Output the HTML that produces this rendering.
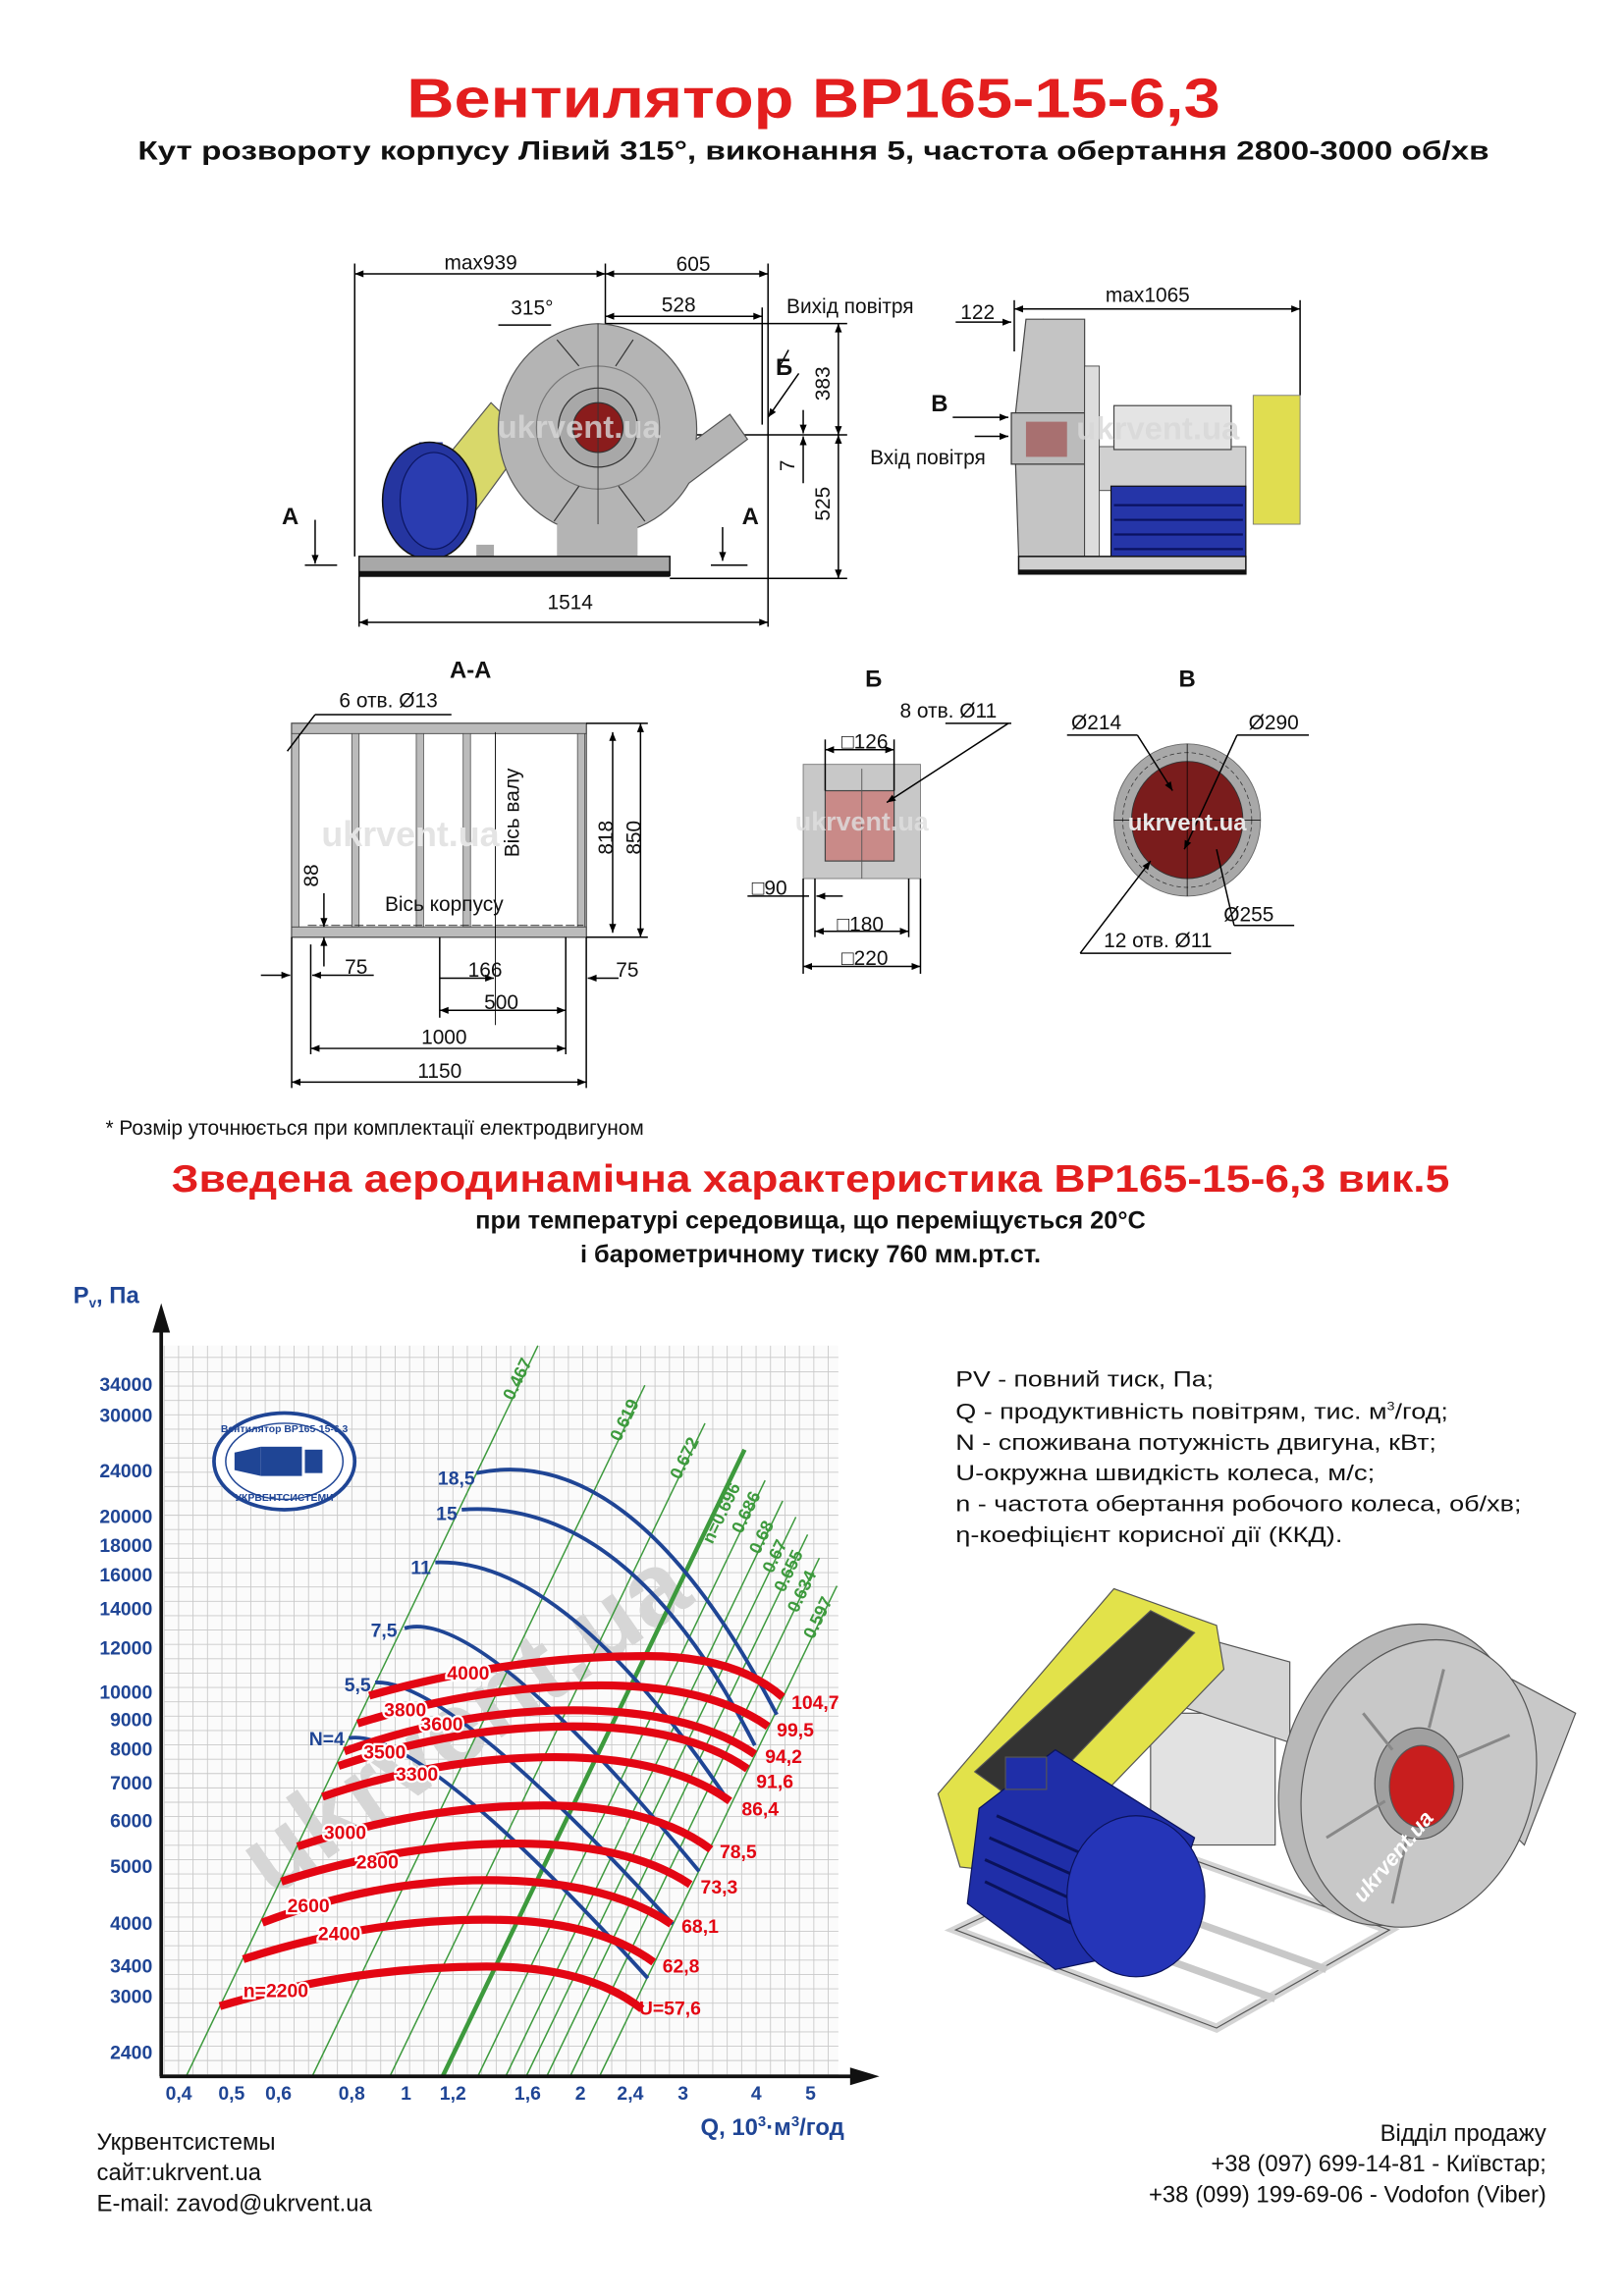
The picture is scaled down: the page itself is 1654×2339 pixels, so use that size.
<!DOCTYPE html>
<html><head><meta charset="utf-8">
<style>
html,body{margin:0;padding:0;background:#fff;}
svg{display:block;}
text{font-family:"Liberation Sans",sans-serif;}
</style></head>
<body>
<svg id="s" xmlns="http://www.w3.org/2000/svg" width="1654" height="2339" viewBox="0 0 1108 1568" preserveAspectRatio="none">
<defs>
<marker id="ar" viewBox="0 0 10 10" refX="10" refY="5" markerWidth="9" markerHeight="6" orient="auto-start-reverse" markerUnits="userSpaceOnUse"><path d="M0,1 L10,5 L0,9 z" fill="#000"/></marker>
</defs>
<rect width="1108" height="1568" fill="#fff"/>

<text x="555" y="80" text-anchor="middle" font-size="38" font-weight="bold" fill="#e31e1e" textLength="555" lengthAdjust="spacingAndGlyphs">Вентилятор ВР165-15-6,3</text>
<text x="555" y="109" text-anchor="middle" font-size="18" font-weight="bold" fill="#111" textLength="922" lengthAdjust="spacingAndGlyphs">Кут розвороту корпусу Лівий 315°, виконання 5, частота обертання 2800-3000 об/хв</text>

<g stroke="#000" stroke-width="1" fill="none">
 <line x1="242" y1="180" x2="242" y2="380"/>
 <line x1="413" y1="180" x2="413" y2="290"/>
 <line x1="524" y1="180" x2="524" y2="428"/>
 <line x1="520" y1="210" x2="520" y2="290"/>
 <line x1="245" y1="390" x2="245" y2="428"/>
 <line x1="242" y1="187" x2="413" y2="187" marker-start="url(#ar)" marker-end="url(#ar)"/>
 <line x1="413" y1="187" x2="524" y2="187" marker-start="url(#ar)" marker-end="url(#ar)"/>
 <line x1="413" y1="216" x2="520" y2="216" marker-start="url(#ar)" marker-end="url(#ar)"/>
 <line x1="245" y1="425" x2="524" y2="425" marker-start="url(#ar)" marker-end="url(#ar)"/>
 <line x1="413" y1="221" x2="578" y2="221"/>
 <line x1="440" y1="297" x2="578" y2="297"/>
 <line x1="457" y1="395" x2="578" y2="395"/>
 <line x1="572" y1="221" x2="572" y2="297" marker-start="url(#ar)" marker-end="url(#ar)"/>
 <line x1="572" y1="297" x2="572" y2="395" marker-start="url(#ar)" marker-end="url(#ar)"/>
 <line x1="548" y1="280" x2="548" y2="296" marker-end="url(#ar)"/>
 <line x1="548" y1="330" x2="548" y2="298" marker-end="url(#ar)"/>
 <line x1="340" y1="222" x2="376" y2="222"/>
 <line x1="215" y1="355" x2="215" y2="385" marker-end="url(#ar)"/>
 <line x1="208" y1="386" x2="230" y2="386"/>
 <line x1="493" y1="360" x2="493" y2="383" marker-end="url(#ar)"/>
 <line x1="485" y1="386" x2="510" y2="386"/>
 <line x1="545" y1="255" x2="524" y2="285" marker-end="url(#ar)"/>
 <line x1="532" y1="250" x2="538" y2="239"/>
</g>
<polygon points="300,318 335,275 360,300 325,348" fill="#d8d86a" stroke="#555" stroke-width="0.8"/>
<rect x="286" y="302" width="16" height="14" fill="#2a3ca8"/>
<ellipse cx="293" cy="342" rx="32" ry="40" fill="#2535a0" stroke="#111" stroke-width="1"/>
<ellipse cx="296" cy="342" rx="23" ry="33" fill="#2a3cb0" stroke="#0b1560" stroke-width="0.8"/>
<path d="M408,221 A70,72 0 1 0 470,330 L510,300 L498,283 L475,300 A70,72 0 0 0 408,221 z" fill="#b4b4b4" stroke="#555" stroke-width="0.8"/>
<circle cx="408" cy="292" r="42" fill="none" stroke="#777" stroke-width="0.8"/>
<circle cx="408" cy="292" r="27" fill="#a8a8a8" stroke="#333" stroke-width="0.8"/>
<circle cx="408" cy="292" r="17" fill="#8a1c1c" stroke="#333" stroke-width="0.8"/>
<g stroke="#333" stroke-width="0.8"><line x1="395" y1="250" x2="380" y2="232"/><line x1="420" y1="250" x2="432" y2="232"/><line x1="395" y1="332" x2="378" y2="356"/><line x1="422" y1="332" x2="440" y2="356"/></g>
<line x1="408" y1="221" x2="408" y2="376" stroke="#333" stroke-width="0.6"/>
<rect x="325" y="372" width="12" height="12" fill="#aaa"/>
<rect x="380" y="358" width="55" height="25" fill="#b4b4b4"/>
<rect x="245" y="380" width="212" height="13" fill="#a8a8a8" stroke="#111"/>
<rect x="245" y="390" width="212" height="4" fill="#111"/>
<text x="395" y="299" font-size="22" font-weight="bold" fill="#d8d8d8" text-anchor="middle" opacity="0.8">ukrvent.ua</text>
<g font-size="14" fill="#111">
 <text x="328" y="184" text-anchor="middle">max939</text>
 <text x="473" y="185" text-anchor="middle">605</text>
 <text x="363" y="215" text-anchor="middle">315°</text>
 <text x="463" y="213" text-anchor="middle">528</text>
 <text x="580" y="214" text-anchor="middle">Вихід повітря</text>
 <text x="535" y="256" text-anchor="middle" font-weight="bold" font-size="16">Б</text>
 <text x="198" y="358" text-anchor="middle" font-weight="bold" font-size="16">А</text>
 <text x="512" y="358" text-anchor="middle" font-weight="bold" font-size="16">А</text>
 <text x="389" y="416" text-anchor="middle">1514</text>
 <text transform="translate(566,262) rotate(-90)" text-anchor="middle">383</text>
 <text transform="translate(566,344) rotate(-90)" text-anchor="middle">525</text>
 <text transform="translate(542,318) rotate(-90)" text-anchor="middle">7</text>
</g>

<g stroke="#000" stroke-width="1" fill="none">
 <line x1="692" y1="205" x2="692" y2="240"/>
 <line x1="887" y1="205" x2="887" y2="270"/>
 <line x1="692" y1="211" x2="887" y2="211" marker-start="url(#ar)" marker-end="url(#ar)"/>
 <line x1="652" y1="220" x2="690" y2="220" marker-end="url(#ar)"/>
 <line x1="720" y1="220" x2="706" y2="220" marker-end="url(#ar)"/>
 <line x1="650" y1="285" x2="688" y2="285" marker-end="url(#ar)"/>
 <line x1="665" y1="298" x2="688" y2="298" marker-end="url(#ar)"/>
</g>
<polygon points="700,218 740,218 740,380 695,380 692,290" fill="#c4c4c4" stroke="#444" stroke-width="0.8"/>
<rect x="690" y="282" width="50" height="35" fill="#bbb" stroke="#333" stroke-width="0.8"/>
<rect x="700" y="288" width="28" height="24" fill="#a87070"/>
<rect x="740" y="250" width="10" height="130" fill="#ddd" stroke="#444" stroke-width="0.6"/>
<rect x="750" y="305" width="100" height="30" fill="#d0d0d0" stroke="#444" stroke-width="0.6"/>
<rect x="760" y="277" width="80" height="30" fill="#e4e4e4" stroke="#444" stroke-width="0.8"/>
<rect x="758" y="332" width="92" height="52" fill="#2535a8" stroke="#111" stroke-width="0.8"/>
<g stroke="#0a1260" stroke-width="1.5"><line x1="760" y1="345" x2="848" y2="345"/><line x1="760" y1="355" x2="848" y2="355"/><line x1="760" y1="365" x2="848" y2="365"/><line x1="760" y1="375" x2="848" y2="375"/></g>
<rect x="855" y="270" width="32" height="88" fill="#e0dd50" stroke="#777" stroke-width="0.6"/>
<rect x="695" y="380" width="155" height="12" fill="#d0d0d0" stroke="#111"/>
<rect x="695" y="389" width="155" height="3" fill="#111"/>
<text x="790" y="300" font-size="22" font-weight="bold" fill="#d8d8d8" text-anchor="middle" opacity="0.8">ukrvent.ua</text>
<g font-size="14" fill="#111">
 <text x="667" y="218" text-anchor="middle">122</text>
 <text x="783" y="206" text-anchor="middle">max1065</text>
 <text x="641" y="281" text-anchor="middle" font-weight="bold" font-size="16">В</text>
 <text x="633" y="317" text-anchor="middle">Вхід повітря</text>
</g>

<g font-size="14" fill="#111">
 <text x="321" y="463" text-anchor="middle" font-weight="bold" font-size="16">А-А</text>
 <text x="265" y="483" text-anchor="middle">6 отв. Ø13</text>
</g>
<rect x="199" y="494" width="201" height="146" fill="#fff" stroke="#555"/>
<rect x="199" y="494" width="201" height="7" fill="#bbb" stroke="#444" stroke-width="0.6"/>
<rect x="199" y="633" width="201" height="7" fill="#bbb" stroke="#444" stroke-width="0.6"/>
<g fill="#bbb" stroke="#444" stroke-width="0.5">
<rect x="199" y="501" width="5" height="132"/><rect x="240" y="501" width="5" height="132"/><rect x="284" y="501" width="5" height="132"/><rect x="316" y="501" width="5" height="132"/><rect x="394" y="501" width="5" height="132"/>
</g>
<g stroke="#000" stroke-width="1" fill="none">
 <line x1="196" y1="513" x2="215" y2="488"/><line x1="215" y1="488" x2="308" y2="488"/>
 <line x1="400" y1="494" x2="442" y2="494"/><line x1="400" y1="640" x2="442" y2="640"/>
 <line x1="418" y1="500" x2="418" y2="637" marker-start="url(#ar)" marker-end="url(#ar)"/>
 <line x1="437" y1="494" x2="437" y2="640" marker-start="url(#ar)" marker-end="url(#ar)"/>
 <line x1="221" y1="610" x2="221" y2="633" marker-end="url(#ar)"/>
 <line x1="221" y1="660" x2="221" y2="640" marker-end="url(#ar)"/>
 <line x1="210" y1="632" x2="398" y2="632" stroke-dasharray="6,2" stroke-width="0.5"/>
 <line x1="338" y1="500" x2="338" y2="700" stroke-width="0.6"/>
 <line x1="199" y1="640" x2="199" y2="743"/><line x1="212" y1="645" x2="212" y2="720"/>
 <line x1="300" y1="640" x2="300" y2="695"/><line x1="386" y1="640" x2="386" y2="720"/><line x1="400" y1="640" x2="400" y2="743"/>
 <line x1="178" y1="666" x2="198" y2="666" marker-end="url(#ar)"/><line x1="255" y1="666" x2="213" y2="666" marker-end="url(#ar)"/>
 <line x1="300" y1="668" x2="337" y2="668" marker-end="url(#ar)"/>
 <line x1="422" y1="668" x2="401" y2="668" marker-end="url(#ar)"/>
 <line x1="300" y1="690" x2="386" y2="690" marker-start="url(#ar)" marker-end="url(#ar)"/>
 <line x1="212" y1="716" x2="386" y2="716" marker-start="url(#ar)" marker-end="url(#ar)"/>
 <line x1="199" y1="739" x2="400" y2="739" marker-start="url(#ar)" marker-end="url(#ar)"/>
</g>
<text x="280" y="578" font-size="24" font-weight="bold" fill="#e4e4e4" text-anchor="middle">ukrvent.ua</text>
<g font-size="14" fill="#111">
 <text transform="translate(217,598) rotate(-90)" text-anchor="middle">88</text>
 <text x="303" y="622" text-anchor="middle">Вісь корпусу</text>
 <text transform="translate(354,555) rotate(-90)" text-anchor="middle">Вісь валу</text>
 <text transform="translate(418,572) rotate(-90)" text-anchor="middle">818</text>
 <text transform="translate(437,572) rotate(-90)" text-anchor="middle">850</text>
 <text x="243" y="665" text-anchor="middle">75</text>
 <text x="331" y="667" text-anchor="middle">166</text>
 <text x="428" y="667" text-anchor="middle">75</text>
 <text x="342" y="689" text-anchor="middle">500</text>
 <text x="303" y="713" text-anchor="middle">1000</text>
 <text x="300" y="736" text-anchor="middle">1150</text>
</g>

<rect x="548" y="522" width="80" height="78" fill="#c8c8c8" stroke="#777" stroke-width="0.6"/>
<rect x="563" y="540" width="47" height="48" fill="#c98a88" stroke="#444" stroke-width="0.8"/>
<line x1="588" y1="525" x2="588" y2="600" stroke="#555" stroke-width="0.6"/>
<g stroke="#000" stroke-width="1" fill="none">
 <line x1="563" y1="512" x2="610" y2="512" marker-start="url(#ar)" marker-end="url(#ar)"/>
 <line x1="563" y1="505" x2="563" y2="540"/><line x1="610" y1="505" x2="610" y2="540"/>
 <line x1="688" y1="494" x2="605" y2="548" marker-end="url(#ar)"/><line x1="645" y1="494" x2="690" y2="494"/>
 <line x1="510" y1="612" x2="552" y2="612"/><line x1="575" y1="612" x2="557" y2="612" marker-end="url(#ar)"/>
 <line x1="556" y1="600" x2="556" y2="640"/><line x1="620" y1="600" x2="620" y2="640"/>
 <line x1="548" y1="600" x2="548" y2="665"/><line x1="628" y1="600" x2="628" y2="665"/>
 <line x1="556" y1="636" x2="620" y2="636" marker-start="url(#ar)" marker-end="url(#ar)"/>
 <line x1="548" y1="660" x2="628" y2="660" marker-start="url(#ar)" marker-end="url(#ar)"/>
</g>
<text x="588" y="567" font-size="18" font-weight="bold" fill="#e0e0e0" text-anchor="middle" opacity="0.8">ukrvent.ua</text>
<g font-size="14" fill="#111">
 <text x="596" y="469" text-anchor="middle" font-weight="bold" font-size="16">Б</text>
 <text x="647" y="490" text-anchor="middle">8 отв. Ø11</text>
 <text x="590" y="511" text-anchor="middle">□126</text>
 <text x="525" y="611" text-anchor="middle">□90</text>
 <text x="587" y="636" text-anchor="middle">□180</text>
 <text x="590" y="659" text-anchor="middle">□220</text>
</g>

<ellipse cx="810" cy="560" rx="50" ry="52" fill="#a8a8a8" stroke="#666" stroke-width="0.6"/>
<ellipse cx="810" cy="560" rx="38" ry="40" fill="#7a1c1c" stroke="#333" stroke-width="0.6"/>
<ellipse cx="810" cy="560" rx="44" ry="46" fill="none" stroke="#333" stroke-width="0.5" stroke-dasharray="3,2"/>
<g stroke="#000" stroke-width="1" fill="none">
 <line x1="728" y1="502" x2="776" y2="502"/><line x1="776" y1="502" x2="800" y2="540" marker-end="url(#ar)"/>
 <line x1="893" y1="502" x2="844" y2="502"/><line x1="844" y1="502" x2="808" y2="580" marker-end="url(#ar)"/>
 <line x1="883" y1="632" x2="842" y2="632"/><line x1="842" y1="632" x2="830" y2="580"/>
 <line x1="840" y1="651" x2="737" y2="651"/><line x1="737" y1="651" x2="785" y2="588" marker-end="url(#ar)"/>
 <line x1="760" y1="560" x2="860" y2="560" stroke-width="0.5"/><line x1="810" y1="508" x2="810" y2="612" stroke-width="0.5"/>
</g>
<text x="810" y="567" font-size="16" font-weight="bold" fill="#e8e8e8" text-anchor="middle">ukrvent.ua</text>
<g font-size="14" fill="#111">
 <text x="810" y="469" text-anchor="middle" font-weight="bold" font-size="16">В</text>
 <text x="748" y="498" text-anchor="middle">Ø214</text>
 <text x="869" y="498" text-anchor="middle">Ø290</text>
 <text x="852" y="629" text-anchor="middle">Ø255</text>
 <text x="790" y="647" text-anchor="middle">12 отв. Ø11</text>
</g>

<text x="72" y="775" font-size="14" fill="#111">* Розмір уточнюється при комплектації електродвигуном</text>

<text x="553" y="814" text-anchor="middle" font-size="26" font-weight="bold" fill="#e31e1e" textLength="872" lengthAdjust="spacingAndGlyphs">Зведена аеродинамічна характеристика ВР165-15-6,3 вик.5</text>
<text x="553" y="839" text-anchor="middle" font-size="17" font-weight="bold" fill="#111">при температурі середовища, що переміщується 20°С</text>
<text x="553" y="862" text-anchor="middle" font-size="17" font-weight="bold" fill="#111">і барометричному тиску 760 мм.рт.ст.</text>

<rect x="112" y="919" width="460" height="498" fill="#fbfbfb"/>
<g id="grid" stroke="#c9c9c9" stroke-width="0.6"></g>
<text transform="translate(330,1195) rotate(-35)" font-size="70" font-weight="bold" fill="#d6d6d6" text-anchor="middle">ukrvent.ua</text>
<g id="green" stroke="#3d9a3d" stroke-width="1"></g>
<g font-size="12" font-weight="bold" fill="#3d9a3d">
 <text transform="translate(350,957) rotate(-64)">0.467</text>
 <text transform="translate(423,985) rotate(-64)">0.619</text>
 <text transform="translate(464,1011) rotate(-64)">0.672</text>
 <text transform="translate(486,1055) rotate(-64)">n=0.696</text>
 <text transform="translate(506,1048) rotate(-64)">0.686</text>
 <text transform="translate(518,1062) rotate(-64)">0.68</text>
 <text transform="translate(527,1075) rotate(-64)">0.67</text>
 <text transform="translate(535,1088) rotate(-64)">0.655</text>
 <text transform="translate(544,1102) rotate(-64)">0.634</text>
 <text transform="translate(555,1120) rotate(-64)">0.597</text>
</g>
<g id="blue" stroke="#1f4595" stroke-width="2.6" fill="none"></g>
<g id="red" stroke="#e30613" stroke-width="5.5" fill="none"></g>
<line x1="110" y1="1418" x2="110" y2="905" stroke="#111" stroke-width="2.5"/>
<polygon points="104,910 116,910 110,890" fill="#111"/>
<line x1="109" y1="1418" x2="585" y2="1418" stroke="#111" stroke-width="2.5"/>
<polygon points="580,1412 580,1424 600,1418" fill="#111"/>
<g font-size="13" font-weight="bold" fill="#1f4595" text-anchor="end">
 <text x="104" y="950">34000</text><text x="104" y="971">30000</text><text x="104" y="1009">24000</text>
 <text x="104" y="1040">20000</text><text x="104" y="1060">18000</text><text x="104" y="1080">16000</text>
 <text x="104" y="1103">14000</text><text x="104" y="1130">12000</text><text x="104" y="1160">10000</text>
 <text x="104" y="1179">9000</text><text x="104" y="1199">8000</text><text x="104" y="1222">7000</text>
 <text x="104" y="1248">6000</text><text x="104" y="1279">5000</text><text x="104" y="1318">4000</text>
 <text x="104" y="1347">3400</text><text x="104" y="1368">3000</text><text x="104" y="1406">2400</text>
</g>
<g font-size="13" font-weight="bold" fill="#1f4595" text-anchor="middle">
 <text x="122" y="1434">0,4</text><text x="158" y="1434">0,5</text><text x="190" y="1434">0,6</text>
 <text x="240" y="1434">0,8</text><text x="277" y="1434">1</text><text x="309" y="1434">1,2</text>
 <text x="360" y="1434">1,6</text><text x="396" y="1434">2</text><text x="430" y="1434">2,4</text>
 <text x="466" y="1434">3</text><text x="516" y="1434">4</text><text x="553" y="1434">5</text>
</g>
<text x="50" y="890" font-size="16" font-weight="bold" fill="#1f4595">P<tspan font-size="9" dy="3">v</tspan><tspan dy="-3">, Па</tspan></text>
<text x="478" y="1458" font-size="16" font-weight="bold" fill="#1f4595">Q, 10<tspan font-size="10" dy="-6">3</tspan><tspan dy="6">·м</tspan><tspan font-size="10" dy="-6">3</tspan><tspan dy="6">/год</tspan></text>
<ellipse cx="194" cy="998" rx="48" ry="33" fill="#fff" stroke="#1f4595" stroke-width="2.5"/>
<ellipse cx="194" cy="998" rx="40" ry="26" fill="none" stroke="#1f4595" stroke-width="1"/>
<rect x="178" y="988" width="28" height="20" fill="#1f4595"/>
<polygon points="160,992 178,988 178,1008 160,1004" fill="#1f4595"/>
<rect x="208" y="990" width="12" height="16" fill="#1f4595"/>
<text x="194" y="978" font-size="7" font-weight="bold" fill="#1f4595" text-anchor="middle">Вентилятор ВР165-15-6,3</text>
<text x="194" y="1025" font-size="7" font-weight="bold" fill="#1f4595" text-anchor="middle">УКРВЕНТСИСТЕМИ</text>
<g font-size="13" font-weight="bold" fill="#1f4595" text-anchor="end">
 <text x="324" y="1014">18,5</text><text x="312" y="1038">15</text><text x="294" y="1075">11</text>
 <text x="271" y="1118">7,5</text><text x="253" y="1155">5,5</text><text x="235" y="1192">N=4</text>
</g>
<g font-size="13" font-weight="bold" fill="#e30613" stroke="#fff" stroke-width="3" paint-order="stroke">
 <text x="166" y="1364">n=2200</text><text x="217" y="1325">2400</text><text x="196" y="1306">2600</text>
 <text x="243" y="1276">2800</text><text x="221" y="1256">3000</text><text x="270" y="1216">3300</text>
 <text x="248" y="1201">3500</text><text x="287" y="1182">3600</text><text x="262" y="1172">3800</text>
 <text x="305" y="1147">4000</text>
</g>
<g font-size="13" font-weight="bold" fill="#e30613">
 <text x="540" y="1167">104,7</text><text x="530" y="1186">99,5</text><text x="522" y="1204">94,2</text>
 <text x="516" y="1221">91,6</text><text x="506" y="1240">86,4</text><text x="491" y="1269">78,5</text>
 <text x="478" y="1293">73,3</text><text x="465" y="1320">68,1</text><text x="452" y="1347">62,8</text>
 <text x="436" y="1376">U=57,6</text>
</g>

<g font-size="15" fill="#111">
 <text x="652" y="947" textLength="176" lengthAdjust="spacingAndGlyphs">PV - повний тиск, Па;</text>
 <text x="652" y="969" textLength="336" lengthAdjust="spacingAndGlyphs">Q - продуктивність повітрям, тис. м<tspan font-size="8" dy="-6">3</tspan><tspan dy="6">/год;</tspan></text>
 <text x="652" y="990" textLength="328" lengthAdjust="spacingAndGlyphs">N - споживана потужність двигуна, кВт;</text>
 <text x="652" y="1011" textLength="286" lengthAdjust="spacingAndGlyphs">U-окружна швидкість колеса, м/с;</text>
 <text x="652" y="1032" textLength="386" lengthAdjust="spacingAndGlyphs">n - частота обертання робочого колеса, об/хв;</text>
 <text x="652" y="1053" textLength="264" lengthAdjust="spacingAndGlyphs">η-коефіцієнт корисної дії (ККД).</text>
</g>

<g stroke="#555" stroke-width="0.8">
 <polygon points="652,1318 780,1258 948,1318 830,1385" fill="none" stroke-width="6" stroke="#d4d4d4"/>
 <polygon points="652,1318 780,1258 948,1318 830,1385" fill="none"/>
 <line x1="690" y1="1300" x2="870" y2="1365" stroke="#c8c8c8" stroke-width="5"/>
 <line x1="730" y1="1282" x2="905" y2="1345" stroke="#c8c8c8" stroke-width="5"/>
 <rect x="785" y="1170" width="85" height="90" fill="#e2e2e2"/>
 <polygon points="790,1110 880,1135 880,1190 790,1160" fill="#d4d4d4"/>
 <ellipse cx="795" cy="1130" rx="12" ry="25" fill="#bdbdbd"/>
 <polygon points="640,1225 760,1085 830,1110 835,1140 700,1280 655,1275" fill="#e2e24a" stroke="#555"/>
 <polygon points="665,1210 785,1100 815,1115 700,1235" fill="#333"/>
 <ellipse cx="955" cy="1212" rx="80" ry="105" fill="#b8b8b8" transform="rotate(18 955 1212)"/>
 <polygon points="1000,1130 1075,1170 1040,1260 1020,1240" fill="#c8c8c8"/>
 <ellipse cx="968" cy="1218" rx="78" ry="100" fill="#c8c8c8" transform="rotate(18 968 1218)"/>
 <ellipse cx="968" cy="1218" rx="30" ry="38" fill="#a0a0a0"/>
 <ellipse cx="970" cy="1220" rx="22" ry="28" fill="#c81e1e"/>
 <g stroke="#888" stroke-width="2"><line x1="975" y1="1180" x2="985" y2="1140"/><line x1="995" y1="1200" x2="1030" y2="1185"/><line x1="945" y1="1230" x2="905" y2="1255"/><line x1="950" y1="1195" x2="930" y2="1170"/><line x1="960" y1="1255" x2="950" y2="1300"/></g>
 <polygon points="668,1235 720,1195 815,1255 790,1330 720,1345 660,1300" fill="#1f2ea8" stroke="#0a125a"/>
 <g stroke="#0a125a" stroke-width="2"><line x1="680" y1="1240" x2="770" y2="1280"/><line x1="675" y1="1255" x2="765" y2="1295"/><line x1="672" y1="1270" x2="760" y2="1310"/><line x1="672" y1="1285" x2="755" y2="1325"/></g>
 <ellipse cx="775" cy="1295" rx="47" ry="55" fill="#2535b8" stroke="#0a125a"/>
 <rect x="686" y="1200" width="28" height="22" fill="#1f2ea8"/>
</g>
<text transform="translate(930,1300) rotate(-50)" font-size="15" font-weight="bold" font-style="italic" fill="#fff">ukrvent.ua</text>

<g font-size="16" fill="#111">
 <text x="66" y="1468">Укрвентсистемы</text>
 <text x="66" y="1489">сайт:ukrvent.ua</text>
 <text x="66" y="1510">E-mail: zavod@ukrvent.ua</text>
 <text x="1055" y="1462" text-anchor="end">Відділ продажу</text>
 <text x="1055" y="1483" text-anchor="end">+38 (097) 699-14-81 - Київстар;</text>
 <text x="1055" y="1504" text-anchor="end">+38 (099) 199-69-06 - Vodofon (Viber)</text>
</g>
</svg>
<script>
var NS="http://www.w3.org/2000/svg";
function el(p,t,a){var e=document.createElementNS(NS,t);for(var k in a)e.setAttribute(k,a[k]);document.getElementById(p).appendChild(e);return e;}
for(var x=112;x<=573;x+=9.85)el("grid","line",{x1:x,y1:919,x2:x,y2:1417});
for(var y=1417;y>=918;y-=9.8)el("grid","line",{x1:112,y1:y,x2:572,y2:y});
var G=[[127,367,919],[213,440,946],[266,481,972],[302,508,990],[326,522,1011],[345,534,1025],[359,543,1036],[373,551,1048],[389,559,1064],[409,571,1083]];
G.forEach(function(g,i){el("green","line",{x1:g[0],y1:1418,x2:g[1],y2:g[2],"stroke-width":i==3?3:1});});
var B=[[325,1006,430,1036,530,1171],[315,1031,422,1067,515,1192],[297,1067,391,1106,497,1230],[276,1112,352,1146,477,1278],[256,1149,332,1189,459,1314],[238,1187,313,1224,442,1351]];
B.forEach(function(b){var cx=2*b[2]-(b[0]+b[4])/2,cy=2*b[3]-(b[1]+b[5])/2;el("blue","path",{d:"M"+b[0]+","+b[1]+" Q"+cx+","+cy+" "+b[4]+","+b[5]});});
var R=[[150,1370,332,1343,438,1372],[166,1338,332,1311,446,1340],[179,1313,332,1284,458,1314],[192,1285,352,1259,471,1287],[203,1261,371,1233,485,1263],[220,1227,379,1200,498,1230],[231,1206,391,1179,510,1208],[235,1196,391,1168,515,1198],[244,1177,410,1151,524,1179],[252,1158,442,1131,534,1159]];
R.forEach(function(r){var c1x=r[0]+(r[2]-r[0])*0.5,c2x=r[2]+(r[4]-r[2])*0.65;el("red","path",{d:"M"+r[0]+","+r[1]+" Q"+c1x+","+r[3]+" "+r[2]+","+r[3]+" Q"+c2x+","+r[3]+" "+r[4]+","+r[5]});});
</script>
</body></html>
